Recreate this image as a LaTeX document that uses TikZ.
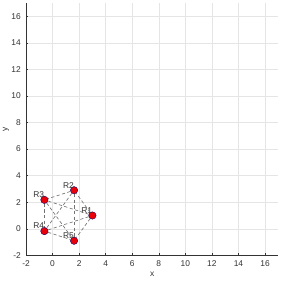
\documentclass[tikz,border=0pt]{standalone}
\usepackage{fontspec}
\setmainfont{Liberation Sans}
\usetikzlibrary{positioning}
\definecolor{gridgray}{gray}{0.9}
\definecolor{axisgray}{gray}{0.2}
\definecolor{robotred}{HTML}{E8000B}

\begin{document}
\begin{tikzpicture}[x=0.5cm,y=0.5cm,font=\fontsize{9}{10}\selectfont,
  robot/.style={circle,fill=robotred,draw=blue!40!black,line width=0.4pt,minimum size=2.8mm,inner sep=0},
  tag/.style={inner sep=0.3pt,xshift=1.1mm,yshift=-0.4mm,text=axisgray},
  link/.style={draw=black!55,line width=0.7pt,dash pattern=on 3.5pt off 2.5pt}]
\path[use as bounding box] (-3.96,-4.01) rectangle (17.27,17.23);
% grid
\foreach \v in {-2,0,...,16} {
  \draw[gridgray,line width=0.4pt] (\v,-2) -- (\v,17);
  \draw[gridgray,line width=0.4pt] (-2,\v) -- (17,\v);
}
% axes and ticks
\draw[axisgray,line width=0.5pt] (-2,17) -- (-2,-2) -- (17,-2);
\foreach \v in {-2,0,...,16} {
  \draw[axisgray,line width=0.5pt] (\v,-2) -- ++(0,0.18);
  \draw[axisgray,line width=0.5pt] (-2,\v) -- ++(0.18,0);
  \node[text=axisgray] at (\v,-2.65) {\v};
  \node[anchor=east,text=axisgray,inner sep=0pt] at (-2.38,\v) {\v};
}
\node[text=axisgray] (xlab) at (7.5,-3.45) {x};
\node[text=axisgray,rotate=90] (ylab) at (-3.5,7.5) {y};
% robots
\node[robot,label={[tag]above left:R1}] (r1) at (3,1) {};
\node[robot,label={[tag]above left:R2}] (r2) at (1.618,2.902) {};
\node[robot,label={[tag]above left:R3}] (r3) at (-0.618,2.176) {};
\node[robot,label={[tag]above left:R4}] (r4) at (-0.618,-0.176) {};
\node[robot,label={[tag]above left:R5}] (r5) at (1.618,-0.902) {};
% links
\foreach \a/\b in {r1/r2,r1/r3,r1/r4,r1/r5,r2/r3,r2/r4,r2/r5,r3/r4,r3/r5,r4/r5}
  \draw[link] (\a) -- (\b);
\end{tikzpicture}
\end{document}
